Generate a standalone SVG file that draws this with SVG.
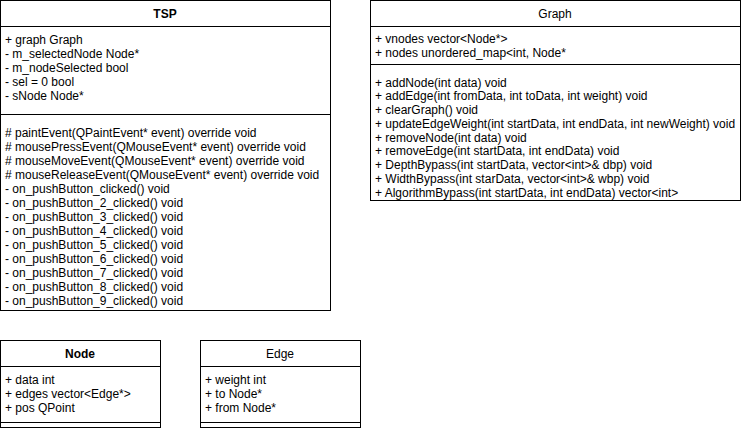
<svg xmlns="http://www.w3.org/2000/svg" width="741" height="429" viewBox="0 0 741 429">
<style>
.box{fill:#ffffff;stroke:#000000;stroke-width:1}
.ln{stroke:#000000;stroke-width:1;fill:none}
text{font-family:"Liberation Sans",Arial,Helvetica,sans-serif;font-size:12px;fill:#000000}
.t{text-anchor:middle}
.b{font-weight:bold}
</style>
<rect width="741" height="429" fill="#ffffff"/>
<g id="TSP">
<rect class="box" x="0.5" y="0.5" width="330" height="310"/>
<line class="ln" x1="0.5" y1="26.5" x2="330.5" y2="26.5"/>
<line class="ln" x1="0.5" y1="114.5" x2="330.5" y2="114.5"/>
<text class="t b" x="165" y="18">TSP</text>
<text x="5" y="44">+ graph Graph</text>
<text x="5" y="58">- m_selectedNode Node*</text>
<text x="5" y="72">- m_nodeSelected bool</text>
<text x="5" y="86">- sel = 0 bool</text>
<text x="5" y="100">- sNode Node*</text>
<text x="5" y="137"># paintEvent(QPaintEvent* event) override void</text>
<text x="5" y="151"># mousePressEvent(QMouseEvent* event) override void</text>
<text x="5" y="165"># mouseMoveEvent(QMouseEvent* event) override void</text>
<text x="5" y="179"># mouseReleaseEvent(QMouseEvent* event) override void</text>
<text x="5" y="193">- on_pushButton_clicked() void</text>
<text x="5" y="207">- on_pushButton_2_clicked() void</text>
<text x="5" y="221">- on_pushButton_3_clicked() void</text>
<text x="5" y="235">- on_pushButton_4_clicked() void</text>
<text x="5" y="249">- on_pushButton_5_clicked() void</text>
<text x="5" y="263">- on_pushButton_6_clicked() void</text>
<text x="5" y="277">- on_pushButton_7_clicked() void</text>
<text x="5" y="291">- on_pushButton_8_clicked() void</text>
<text x="5" y="305">- on_pushButton_9_clicked() void</text>
</g>
<g id="Graph">
<rect class="box" x="370.5" y="0.5" width="370" height="200"/>
<line class="ln" x1="370.5" y1="26.5" x2="740.5" y2="26.5"/>
<line class="ln" x1="370.5" y1="64.5" x2="740.5" y2="64.5"/>
<text class="t" x="555" y="18">Graph</text>
<text x="375" y="43">+ vnodes vector&lt;Node*&gt;</text>
<text x="375" y="57">+ nodes unordered_map&lt;int, Node*</text>
<text x="375" y="86.5">+ addNode(int data) void</text>
<text x="375" y="100.3">+ addEdge(int fromData, int toData, int weight) void</text>
<text x="375" y="114">+ clearGraph() void</text>
<text x="375" y="127.8">+ updateEdgeWeight(int startData, int endData, int newWeight) void</text>
<text x="375" y="141.5">+ removeNode(int data) void</text>
<text x="375" y="155.3">+ removeEdge(int startData, int endData) void</text>
<text x="375" y="169">+ DepthBypass(int startData, vector&lt;int&gt;&amp; dbp) void</text>
<text x="375" y="182.8">+ WidthBypass(int starData, vector&lt;int&gt;&amp; wbp) void</text>
<text x="375" y="196.5">+ AlgorithmBypass(int startData, int endData) vector&lt;int&gt;</text>
</g>
<g id="Node">
<rect class="box" x="0.5" y="340.5" width="160" height="87"/>
<line class="ln" x1="0.5" y1="366.5" x2="160.5" y2="366.5"/>
<line class="ln" x1="0.5" y1="422.5" x2="160.5" y2="422.5"/>
<text class="t b" x="80" y="358">Node</text>
<text x="5" y="384">+ data int</text>
<text x="5" y="398">+ edges vector&lt;Edge*&gt;</text>
<text x="5" y="412">+ pos QPoint</text>
</g>
<g id="Edge">
<rect class="box" x="200.5" y="340.5" width="160" height="87"/>
<line class="ln" x1="200.5" y1="366.5" x2="360.5" y2="366.5"/>
<line class="ln" x1="200.5" y1="422.5" x2="360.5" y2="422.5"/>
<text class="t" x="280" y="358">Edge</text>
<text x="205" y="384">+ weight int</text>
<text x="205" y="398">+ to Node*</text>
<text x="205" y="412">+ from Node*</text>
</g>
<g id="connectors"></g>
</svg>
